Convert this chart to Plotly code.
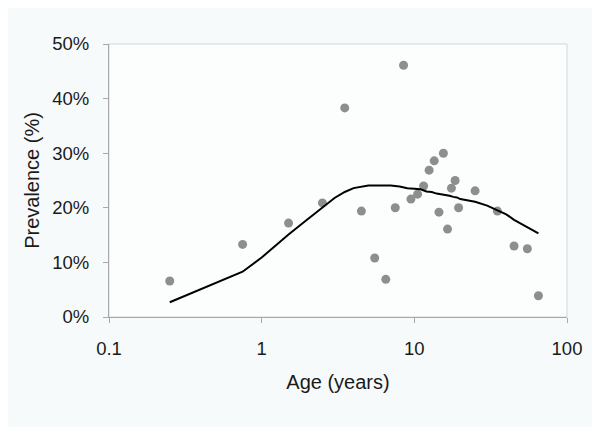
import plotly.graph_objects as go

# Observed prevalence by age
obs_age = [0.25, 0.75, 1.5, 2.5, 3.5, 4.5, 5.5, 6.5, 7.5, 8.5, 9.5, 10.5, 11.5,
           12.5, 13.5, 14.5, 15.5, 16.5, 17.5, 18.5, 19.5, 25, 35, 45, 55, 65]
obs_prev = [6.6, 13.3, 17.2, 20.9, 38.3, 19.4, 10.8, 6.9, 20.0, 46.1, 21.6, 22.5, 24.0,
            26.9, 28.6, 19.2, 30.0, 16.1, 23.6, 25.0, 20.0, 23.1, 19.4, 13.0, 12.5, 3.9]

# Model fit
fit_age = [0.25, 0.75, 1.0, 1.5, 2.0, 2.5, 3.0, 3.5, 4.0, 5.0, 6.0, 7.0, 8.0, 9.0, 10.0,
           11.0, 12.0, 13.0, 14.0, 15.0, 16.0, 17.0, 18.0, 19.0, 20.0, 25.0, 30.0, 35.0,
           40.0, 45.0, 50.0, 55.0, 60.0, 65.0]
fit_prev = [2.7, 8.3, 10.9, 15.1, 17.9, 20.0, 21.8, 22.9, 23.6, 24.1, 24.1, 24.1, 23.9, 23.6,
            23.5, 23.4, 23.0, 22.9, 22.6, 22.5, 22.4, 22.2, 22.0, 21.9, 21.6, 21.1, 20.4,
            19.6, 18.8, 17.8, 17.1, 16.4, 15.8, 15.3]

x_ticks = [0.1, 1, 10, 100]
x_ticktext = ["0.1", "1", "10", "100"]
y_ticks = [0, 10, 20, 30, 40, 50]
y_ticktext = ["0%", "10%", "20%", "30%", "40%", "50%"]

fig = go.Figure()
fig.add_trace(go.Scatter(x=obs_age, y=obs_prev, mode="markers",
                         marker=dict(color="#8e8e8e", size=9, line=dict(width=0)),
                         showlegend=False))
fig.add_trace(go.Scatter(x=fit_age, y=fit_prev, mode="lines",
                         line=dict(color="#000000", width=2), showlegend=False))

font = dict(family="Liberation Sans, Arial, sans-serif", size=18.5, color="#1a1a1a")

fig.update_layout(
    width=600, height=427,
    margin=dict(l=101, r=41, t=36, b=118),
    paper_bgcolor="#f7fafa",
    plot_bgcolor="#fcfefe",
    font=font,
    shapes=[dict(type="rect", xref="paper", yref="paper", x0=0, y0=0, x1=1, y1=1,
                 line=dict(color="#d6d8d8", width=1), layer="below")],
)
fig.update_xaxes(type="log", range=[-1, 2], tickvals=x_ticks, ticktext=x_ticktext,
                 showgrid=False, zeroline=False, showline=True, linecolor="#a8a8a8",
                 linewidth=1, ticks="outside", ticklen=5, tickcolor="#a8a8a8",
                 ticklabelstandoff=10,
                 title=dict(text="Age (years)", standoff=16, font=dict(size=20)))
fig.update_yaxes(range=[0, 50], tickvals=y_ticks, ticktext=y_ticktext,
                 showgrid=False, zeroline=False, showline=True, linecolor="#a8a8a8",
                 linewidth=1, ticks="outside", ticklen=5, tickcolor="#a8a8a8",
                 ticklabelstandoff=10,
                 title=dict(text="Prevalence (%)", standoff=7, font=dict(size=20)))

fig.write_html("out.html")
